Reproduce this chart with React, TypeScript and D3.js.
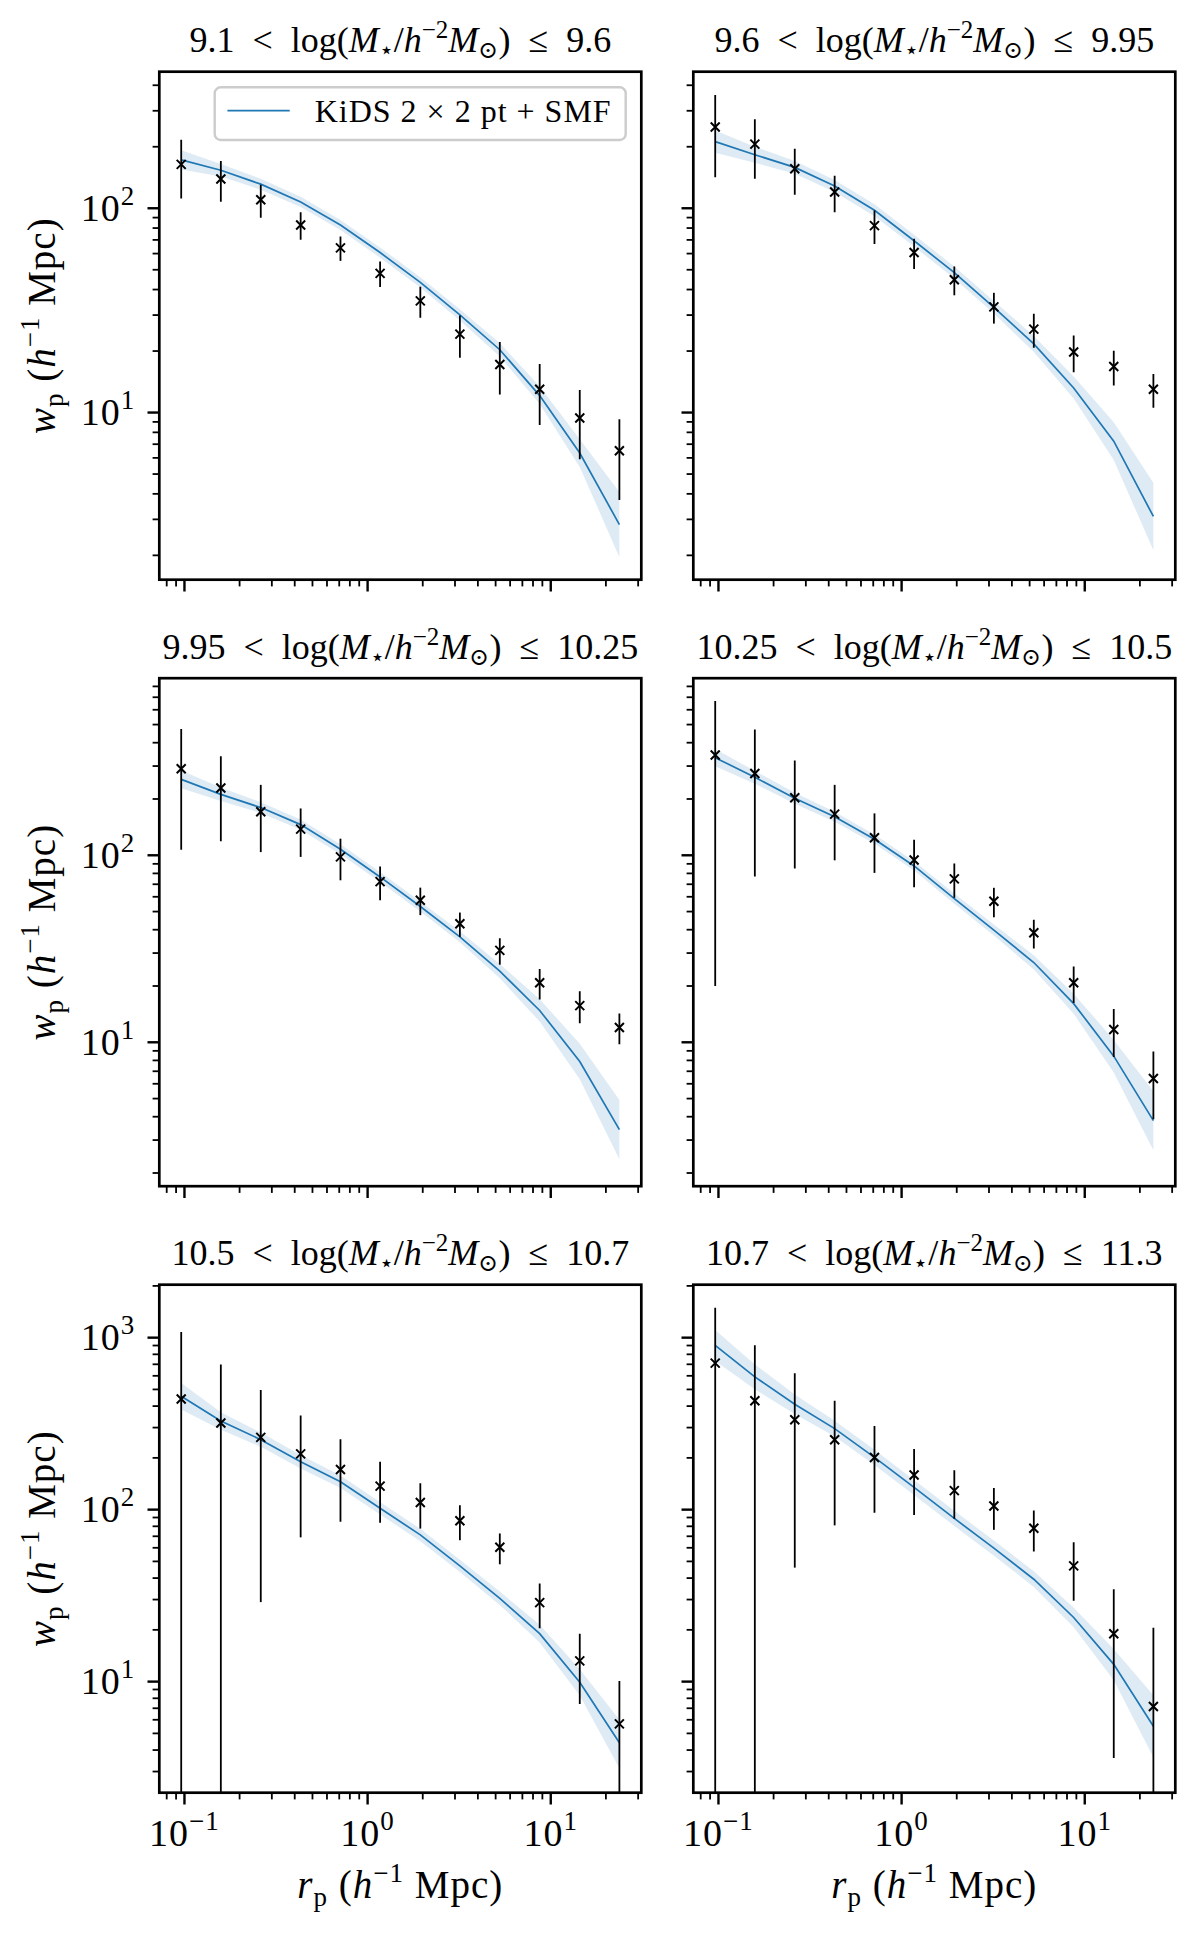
import React from 'react';
import * as d3 from 'd3';

// projected separation bins (h^-1 Mpc), shared by every panel
const rp = [0.096, 0.158, 0.261, 0.431, 0.711, 1.17, 1.94, 3.19, 5.27, 8.70, 14.4, 23.7];

// stellar-mass bin edges, log(M*/h^-2 Msun)
const binLow = ['9.1', '9.6', '9.95', '10.25', '10.5', '10.7'];
const binHigh = ['9.6', '9.95', '10.25', '10.5', '10.7', '11.3'];

// measured w_p and 1-sigma errors
const wp1 = [164, 139, 110, 82.8, 64.0, 48.0, 35.2, 24.2, 17.2, 13.0, 9.4, 6.5];
const err1 = [52.5, 31.5, 20.2, 12.7, 8.75, 6.8, 6.1, 5.65, 4.95, 4.3, 3.5, 2.77];
const wp2 = [250, 206, 156, 120, 82.2, 60.7, 44.7, 32.9, 25.6, 19.8, 16.8, 13.0];
const err2 = [108, 66.5, 39.5, 24.4, 15.3, 10.3, 7.2, 5.65, 4.85, 4.05, 3.25, 2.45];
const wp3 = [290, 229, 171, 138, 98.1, 72.3, 57.5, 43.0, 31.0, 20.8, 15.7, 12.0];
const err3 = [183, 110, 67, 40, 24.6, 14.8, 9.65, 6.4, 5.0, 3.85, 3.05, 2.25];
const wp4 = [344, 274, 203, 166, 124, 94.3, 74.8, 56.8, 38.5, 20.8, 11.7, 6.4];
const err4 = [324, 197, 118, 72, 43.5, 26.8, 15.6, 10.2, 6.75, 4.6, 3.36, 2.52];
const wp5 = [440, 319, 263, 211, 171, 137, 110, 86.2, 60.4, 28.8, 13.2, 5.68];
const err5 = [637, 379, 234, 142, 86, 53, 32.4, 19.8, 12.3, 8.4, 5.8, 4.42];
const wp6 = [711, 430, 333, 255, 201, 159, 129, 105, 78.0, 47.1, 19.0, 7.16];
const err6 = [782, 472, 287, 174, 105, 66, 40.6, 28.7, 21.0, 17.6, 15.4, 13.4];

// KiDS 2x2pt + SMF model prediction with its band
const model1 = [172.6, 153.5, 131.2, 107.4, 82.8, 60.7, 43.4, 30.1, 20.3, 12.1, 6.34, 2.83];
const bandLo1 = [154.9, 142.9, 123.3, 101.4, 78.2, 57.3, 40.9, 28.2, 18.8, 11.0, 5.42, 1.96];
const bandHi1 = [192.3, 164.8, 139.6, 113.8, 87.7, 64.3, 45.9, 32.0, 21.9, 13.4, 7.41, 4.09];
const model2 = [211.8, 182.8, 158.5, 128.5, 97.7, 69.3, 48.4, 32.7, 21.7, 13.2, 7.24, 3.10];
const bandLo2 = [187.1, 167.1, 147.6, 120.2, 91.4, 64.9, 45.3, 30.5, 19.8, 11.7, 5.85, 2.12];
const bandHi2 = [239.9, 200.0, 170.2, 137.4, 104.5, 74.1, 51.8, 35.2, 23.7, 15.0, 8.97, 4.53];
const model3 = [254.7, 211.8, 179.9, 145.9, 107.6, 76.6, 53.2, 36.6, 24.0, 14.8, 7.89, 3.41];
const bandLo3 = [228.0, 195.0, 168.3, 137.1, 101.2, 71.9, 50.0, 34.3, 22.0, 12.9, 6.34, 2.37];
const bandHi3 = [284.4, 230.1, 192.3, 155.2, 114.6, 81.5, 56.6, 39.2, 26.2, 17.0, 9.82, 4.91];
const model4 = [332.7, 261.2, 201.8, 160.7, 121.9, 87.7, 58.6, 39.8, 26.7, 16.1, 8.43, 3.81];
const bandLo4 = [299.2, 241.5, 188.8, 151.0, 115.1, 82.8, 55.1, 37.2, 24.5, 14.2, 6.89, 2.65];
const bandHi4 = [369.8, 282.5, 215.8, 171.0, 129.1, 92.9, 62.4, 42.6, 29.2, 18.2, 10.3, 5.48];
const model5 = [456.0, 327.3, 255.3, 189.7, 145.2, 101.9, 71.3, 47.1, 30.5, 19.0, 9.91, 4.41];
const bandLo5 = [381.9, 291.1, 232.3, 173.4, 133.7, 93.8, 65.6, 43.4, 27.9, 16.9, 8.30, 3.14];
const bandHi5 = [544.5, 368.1, 280.5, 207.5, 157.8, 110.7, 77.4, 51.2, 33.4, 21.4, 11.8, 6.0];
const model6 = [901.6, 591.6, 410.2, 295.8, 201.4, 134.6, 88.9, 59.7, 39.4, 23.6, 12.6, 5.50];
const bandLo6 = [732.8, 501.2, 359.7, 266.1, 182.0, 121.6, 80.4, 54.0, 35.5, 20.7, 10.2, 3.63];
const bandHi6 = [1109, 698.2, 467.7, 328.9, 222.8, 148.9, 98.4, 66.1, 43.9, 26.9, 15.5, 8.32];

// y limits shared along each row
const rowYLimits: [number, number][] = [[1.52, 466], [1.70, 885], [2.26, 2032]];

const legendLabel = 'KiDS 2 \u00d7 2 pt + SMF';

const panels = [
  { wp: wp1, err: err1, model: model1, lo: bandLo1, hi: bandHi1 },
  { wp: wp2, err: err2, model: model2, lo: bandLo2, hi: bandHi2 },
  { wp: wp3, err: err3, model: model3, lo: bandLo3, hi: bandHi3 },
  { wp: wp4, err: err4, model: model4, lo: bandLo4, hi: bandHi4 },
  { wp: wp5, err: err5, model: model5, lo: bandLo5, hi: bandHi5 },
  { wp: wp6, err: err6, model: model6, lo: bandLo6, hi: bandHi6 },
];

const W = 1200;
const H = 1935;
const colX = [159.3, 693.3];
const rowY = [71.7, 678.2, 1284.7];
const pw = 482;
const ph = 508;
const FONT = "'Liberation Serif', 'DejaVu Serif', serif";
const BLUE = '#1f77b4';

// matplotlib-style 5% padding in log space
const xLogExt = d3.extent(rp.map(Math.log10)) as [number, number];
const xPad = 0.05 * (xLogExt[1] - xLogExt[0]);
const xDomain: [number, number] = [10 ** (xLogExt[0] - xPad), 10 ** (xLogExt[1] + xPad)];

const isMajor = (t: number) => Math.abs(Math.log10(t) - Math.round(Math.log10(t))) < 1e-9;
const expLabel = (t: number) => {
  const e = Math.round(Math.log10(t));
  return e < 0 ? `\u2212${-e}` : `${e}`;
};

const Panel: React.FC<{ idx: number }> = ({ idx }) => {
  const row = Math.floor(idx / 2);
  const col = idx % 2;
  const p = panels[idx];
  const x = d3.scaleLog().domain(xDomain).range([0, pw]);
  const y = d3.scaleLog().domain(rowYLimits[row]).range([ph, 0]);

  const band = d3.area<number>()
    .x((_, i) => x(rp[i]))
    .y0((_, i) => y(p.lo[i]))
    .y1((_, i) => y(p.hi[i]));
  const line = d3.line<number>().x((_, i) => x(rp[i])).y(d => y(d));

  const xt = x.ticks().filter(t => t >= xDomain[0] && t <= xDomain[1]);
  const yt = y.ticks().filter(t => t >= rowYLimits[row][0] && t <= rowYLimits[row][1]);
  const clipId = `clip-${idx}`;

  return (
    <g transform={`translate(${colX[col]},${rowY[row]})`}>
      <defs>
        <clipPath id={clipId}>
          <rect x={0} y={0} width={pw} height={ph} />
        </clipPath>
      </defs>

      {/* title */}
      <text x={pw / 2} y={-19.5} textAnchor="middle" fontSize={36} fontFamily={FONT}>
        <tspan>{`${binLow[idx]}\u2002<\u2002log(`}</tspan>
        <tspan fontStyle="italic">M</tspan>
        <tspan fontSize={24} dy={6}>{'\u22c6'}</tspan>
        <tspan dy={-6}>/</tspan>
        <tspan fontStyle="italic">h</tspan>
        <tspan fontSize={25} dy={-14}>{'\u22122'}</tspan>
        <tspan fontStyle="italic" dy={14}>M</tspan>
        <tspan fontSize={24} dy={6}>{'\u2299'}</tspan>
        <tspan dy={-6}>{`)\u2002\u2264\u2002${binHigh[idx]}`}</tspan>
      </text>

      <g clipPath={`url(#${clipId})`}>
        <path d={band(p.model) || ''} fill={BLUE} fillOpacity={0.15} stroke="none" />
        <path d={line(p.model) || ''} fill="none" stroke={BLUE} strokeWidth={1.7} />
        {p.wp.map((v, i) => {
          const cx = x(rp[i]);
          const lo = v - p.err[i];
          const y0 = lo > 0 ? y(lo) : ph + 10;
          const y1 = y(v + p.err[i]);
          const cy = y(v);
          return (
            <g key={i}>
              <line x1={cx} x2={cx} y1={y0} y2={y1} stroke="#000" strokeWidth={1.8} />
              <path
                d={`M${cx - 4.5},${cy - 4.5}L${cx + 4.5},${cy + 4.5}M${cx - 4.5},${cy + 4.5}L${cx + 4.5},${cy - 4.5}`}
                stroke="#000"
                strokeWidth={2}
                fill="none"
              />
            </g>
          );
        })}
      </g>

      {/* x ticks */}
      {xt.map((t, i) => (
        <line
          key={`xt${i}`}
          x1={x(t)} x2={x(t)} y1={ph} y2={ph + (isMajor(t) ? 11.8 : 6.7)}
          stroke="#000" strokeWidth={isMajor(t) ? 2.4 : 1.8}
        />
      ))}
      {row === 2 && xt.filter(isMajor).map((t, i) => (
        <text key={`xl${i}`} x={x(t)} y={ph + 53} textAnchor="middle" fontSize={38} fontFamily={FONT} letterSpacing={1}>
          <tspan>10</tspan>
          <tspan fontSize={27} dy={-16}>{expLabel(t)}</tspan>
        </text>
      ))}

      {/* y ticks */}
      {yt.map((t, i) => (
        <line
          key={`yt${i}`}
          x1={0} x2={-(isMajor(t) ? 11.8 : 6.7)} y1={y(t)} y2={y(t)}
          stroke="#000" strokeWidth={isMajor(t) ? 2.4 : 1.8}
        />
      ))}
      {col === 0 && yt.filter(isMajor).map((t, i) => (
        <text key={`yl${i}`} x={-24} y={y(t) + 12.5} textAnchor="end" fontSize={38} fontFamily={FONT} letterSpacing={1}>
          <tspan>10</tspan>
          <tspan fontSize={27} dy={-16}>{expLabel(t)}</tspan>
        </text>
      ))}

      {/* axis labels */}
      {col === 0 && (
        <text
          transform={`translate(${55 - colX[0]},${ph / 2}) rotate(-90)`}
          textAnchor="middle" fontSize={39} fontFamily={FONT} letterSpacing={1}
        >
          <tspan fontStyle="italic">w</tspan>
          <tspan fontSize={27} dy={8}>p</tspan>
          <tspan dy={-8}> (</tspan>
          <tspan fontStyle="italic">h</tspan>
          <tspan fontSize={27} dy={-16}>{'\u22121'}</tspan>
          <tspan dy={16}> Mpc)</tspan>
        </text>
      )}
      {row === 2 && (
        <text x={pw / 2} y={ph + 105} textAnchor="middle" fontSize={39} fontFamily={FONT} letterSpacing={1}>
          <tspan fontStyle="italic">r</tspan>
          <tspan fontSize={27} dy={8}>p</tspan>
          <tspan dy={-8}> (</tspan>
          <tspan fontStyle="italic">h</tspan>
          <tspan fontSize={27} dy={-16}>{'\u22121'}</tspan>
          <tspan dy={16}> Mpc)</tspan>
        </text>
      )}

      {/* legend */}
      {idx === 0 && (
        <g transform={`translate(${pw - 15.6 - 411},15.6)`}>
          <rect width={411} height={52.7} rx={6} fill="#fff" fillOpacity={0.8} stroke="#cccccc" strokeWidth={2.4} />
          <line x1={12.7} x2={75} y1={23.4} y2={23.4} stroke={BLUE} strokeWidth={1.7} />
          <text x={100} y={35} fontSize={32} fontFamily={FONT} letterSpacing={1}>{legendLabel}</text>
        </g>
      )}

      <rect x={0} y={0} width={pw} height={ph} fill="none" stroke="#000" strokeWidth={2.7} />
    </g>
  );
};

const App: React.FC = () => (
  <div>
    <style>{'body{margin:0}'}</style>
    <svg width={W} height={H} viewBox={`0 0 ${W} ${H}`} style={{ display: 'block', background: '#fff' }}>
      <rect width={W} height={H} fill="#fff" />
      {panels.map((_, i) => <Panel key={i} idx={i} />)}
    </svg>
  </div>
);

export default App;
